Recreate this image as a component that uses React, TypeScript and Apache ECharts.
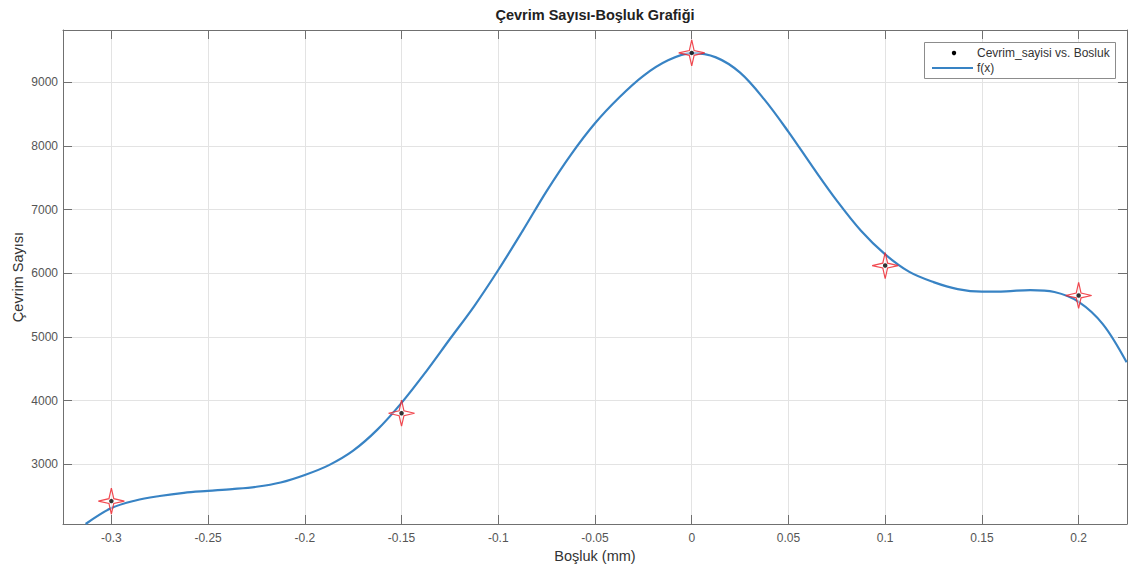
import React, { useEffect, useRef } from "react";
import * as echarts from "echarts";

// Measured points
const pointX = [-0.3, -0.15, 0, 0.1, 0.2];
const pointY = [2420, 3800, 9460, 6120, 5650];

// Fitted curve f(x)
const curveX = [
  -0.3133, -0.3, -0.2875, -0.275, -0.2625, -0.25, -0.2375, -0.225, -0.2125, -0.2,
  -0.1875, -0.175, -0.1625, -0.15, -0.1375, -0.125, -0.1125, -0.1, -0.0875, -0.075,
  -0.0625, -0.05, -0.0375, -0.025, -0.0125, 0, 0.0125, 0.025, 0.0375, 0.05,
  0.0625, 0.075, 0.0875, 0.1, 0.1125, 0.125, 0.1375, 0.15, 0.1625, 0.175,
  0.1875, 0.2, 0.2125, 0.2248,
];
const curveY = [
  2060, 2310, 2430, 2500, 2550, 2580, 2608, 2645, 2712, 2830,
  2985, 3212, 3542, 3963, 4447, 4966, 5480, 6050, 6660, 7290,
  7860, 8355, 8760, 9100, 9340, 9456, 9390, 9150, 8730, 8220,
  7670, 7140, 6667, 6295, 6020, 5860, 5750, 5710, 5715, 5735,
  5705, 5550, 5200, 4600,
];

const titleText = "Çevrim Sayısı-Boşluk Grafiği";
const xName = "Boşluk (mm)";
const yName = "Çevrim Sayısı";
const legendNames = ["Cevrim_sayisi vs. Bosluk", "f(x)"];

const X_MIN = -0.325;
const X_MAX = 0.225;
const Y_MIN = 2060;
const Y_MAX = 9820;

const FONT = "'Liberation Sans', Arial, Helvetica, sans-serif";
const AXIS_COLOR = "#707070";
const LABEL_COLOR = "#555";
const GRID_COLOR = "#e3e3e3";
const CURVE_COLOR = "#3883c4";

const starPath = "path://M0,-13L2.4,-2.4L13,0L2.4,2.4L0,13L-2.4,2.4L-13,0L-2.4,-2.4Z";

export default function App() {
  const ref = useRef<HTMLDivElement>(null);
  useEffect(() => {
    if (!ref.current) return;
    const chart = echarts.init(ref.current, undefined, { renderer: "svg" });
    const fmtX = (v: number) => String(+v.toFixed(4));
    const fmtY = (v: number) => String(Math.round(v));
    const baseTick = { show: true, inside: true, length: 9, lineStyle: { color: AXIS_COLOR, width: 1 } };
    chart.setOption({
      animation: false,
      backgroundColor: "#fff",
      textStyle: { fontFamily: FONT },
      grid: { left: 63, right: 1, top: 30, bottom: 42, containLabel: false, outerBoundsMode: "none" },
      xAxis: [
        {
          type: "value",
          position: "bottom",
          min: X_MIN,
          max: X_MAX,
          minInterval: 0.05,
          maxInterval: 0.05,
          splitNumber: 11,
          name: xName,
          nameLocation: "middle",
          nameGap: 23,
          nameTextStyle: { fontSize: 14.5, color: "#333", fontFamily: FONT },
          axisLine: { show: true, onZero: false, lineStyle: { color: AXIS_COLOR, width: 1 } },
          axisTick: baseTick,
          axisLabel: { show: true, showMinLabel: false, showMaxLabel: false, margin: 8, fontSize: 12, color: LABEL_COLOR, fontFamily: FONT, formatter: fmtX },
          splitLine: { show: true, lineStyle: { color: GRID_COLOR, width: 1 } },
        },
        {
          type: "value",
          position: "top",
          min: X_MIN,
          max: X_MAX,
          minInterval: 0.05,
          maxInterval: 0.05,
          splitNumber: 11,
          axisLine: { show: true, onZero: false, lineStyle: { color: AXIS_COLOR, width: 1 } },
          axisTick: baseTick,
          axisLabel: { show: false },
          splitLine: { show: false },
        },
      ],
      yAxis: [
        {
          type: "value",
          position: "left",
          min: Y_MIN,
          max: Y_MAX,
          minInterval: 1000,
          maxInterval: 1000,
          splitNumber: 8,
          axisLine: { show: true, onZero: false, lineStyle: { color: AXIS_COLOR, width: 1 } },
          axisTick: baseTick,
          axisLabel: { show: true, showMinLabel: false, showMaxLabel: false, margin: 5, fontSize: 12, color: LABEL_COLOR, fontFamily: FONT, formatter: fmtY },
          splitLine: { show: true, lineStyle: { color: GRID_COLOR, width: 1 } },
        },
        {
          type: "value",
          position: "right",
          min: Y_MIN,
          max: Y_MAX,
          minInterval: 1000,
          maxInterval: 1000,
          splitNumber: 8,
          axisLine: { show: true, onZero: false, lineStyle: { color: AXIS_COLOR, width: 1 } },
          axisTick: baseTick,
          axisLabel: { show: false },
          splitLine: { show: false },
        },
      ],
      series: [
        {
          name: legendNames[1],
          type: "line",
          xAxisIndex: 0,
          yAxisIndex: 0,
          data: curveX.map((x, i) => [x, curveY[i]]),
          smooth: 0.35,
          showSymbol: false,
          symbol: "none",
          clip: true,
          lineStyle: { color: CURVE_COLOR, width: 2.2 },
          z: 2,
        },
        {
          name: "stars",
          type: "scatter",
          xAxisIndex: 0,
          yAxisIndex: 0,
          data: pointX.map((x, i) => [x, pointY[i]]),
          symbol: starPath,
          symbolSize: 26,
          itemStyle: { color: "rgba(255,255,255,0.55)", borderColor: "#ee1c24", borderWidth: 1.2 },
          z: 3,
        },
        {
          name: legendNames[0],
          type: "scatter",
          xAxisIndex: 0,
          yAxisIndex: 0,
          data: pointX.map((x, i) => [x, pointY[i]]),
          symbol: "circle",
          symbolSize: 4.5,
          itemStyle: { color: "#000" },
          z: 4,
        },
      ],
      graphic: [
        {
          type: "text",
          x: 595,
          y: 15,
          z: 100,
          style: { text: titleText, fill: "#222", font: `bold 14.5px ${FONT}`, textAlign: "center", textVerticalAlign: "middle" },
        },
        {
          type: "text",
          x: 18,
          y: 277,
          rotation: Math.PI / 2,
          z: 100,
          style: { text: yName, fill: "#333", font: `14.5px ${FONT}`, textAlign: "center", textVerticalAlign: "middle" },
        },
        {
          type: "rect",
          z: 100,
          shape: { x: 924.5, y: 42.5, width: 191, height: 36 },
          style: { fill: "#fff", stroke: "#8c8c8c", lineWidth: 1 },
        },
        {
          type: "circle",
          z: 101,
          shape: { cx: 954, cy: 53, r: 2.2 },
          style: { fill: "#000" },
        },
        {
          type: "text",
          x: 977,
          y: 53,
          z: 101,
          style: { text: legendNames[0], fill: "#333", font: `12px ${FONT}`, textVerticalAlign: "middle" },
        },
        {
          type: "line",
          z: 101,
          shape: { x1: 932, y1: 68, x2: 973, y2: 68 },
          style: { stroke: CURVE_COLOR, lineWidth: 2.2 },
        },
        {
          type: "text",
          x: 977,
          y: 68,
          z: 101,
          style: { text: legendNames[1], fill: "#333", font: `12px ${FONT}`, textVerticalAlign: "middle" },
        },
      ],
    });
    return () => chart.dispose();
  }, []);
  return (
    <div
      ref={ref}
      style={{ position: "fixed", left: 0, top: 0, width: 1128, height: 566, background: "#fff" }}
    />
  );
}
